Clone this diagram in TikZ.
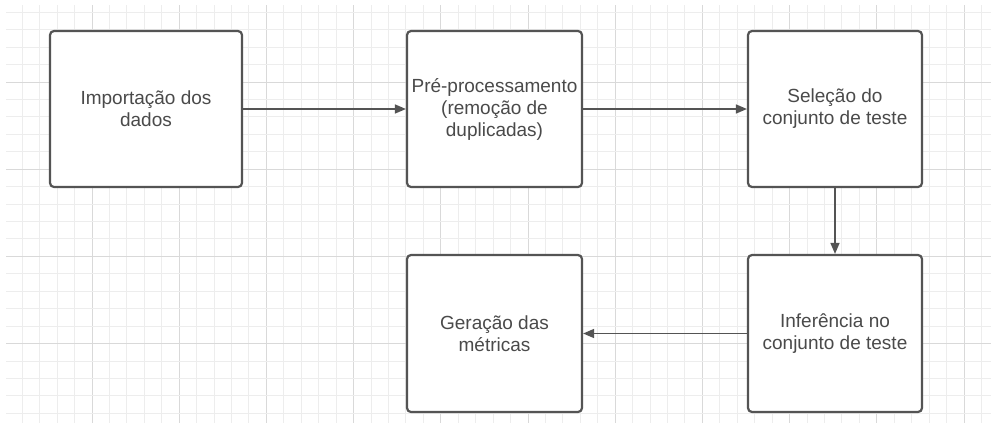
\documentclass[tikz,border=0pt]{standalone}
\usepackage{fontspec}
\setmainfont{Liberation Sans}
\usetikzlibrary{arrows.meta}
\definecolor{minorgrid}{HTML}{EDEDED}
\definecolor{majorgrid}{HTML}{D9D9D9}
\definecolor{boxline}{HTML}{545454}
\definecolor{txt}{HTML}{4A4A4A}
\tikzset{
  stepbox/.style={draw=boxline, line width=2.2pt, rounded corners=4pt, fill=white,
    inner sep=0pt, text=txt, align=center,
    font=\fontsize{19}{22}\selectfont},
  flow/.style={draw=boxline, line width=1.4pt, -{Triangle[length=11pt,width=9pt]}}
}
\begin{document}
\begin{tikzpicture}[x=1pt,y=-1pt]
\useasboundingbox (0,0) rectangle (991,423);
\fill[white] (0,0) rectangle (991,423);
% grid
\foreach \k in {1,...,56}{
  \pgfmathtruncatemacro{\m}{mod(\k,5)}
  \ifnum\m=0
    \draw[majorgrid, line width=1pt] ({4.8+17.44*\k},5) -- ({4.8+17.44*\k},423);
  \else
    \draw[minorgrid, line width=1pt] ({4.8+17.44*\k},5) -- ({4.8+17.44*\k},423);
  \fi
}
\foreach \k in {1,...,24}{
  \pgfmathtruncatemacro{\m}{mod(\k,5)}
  \ifnum\m=0
    \draw[majorgrid, line width=1pt] (6,{-5.2+17.44*\k}) -- (991,{-5.2+17.44*\k});
  \else
    \draw[minorgrid, line width=1pt] (6,{-5.2+17.44*\k}) -- (991,{-5.2+17.44*\k});
  \fi
}
% boxes
\node[stepbox, minimum width=192pt, minimum height=156pt] (imp) at (146,109) {Importação dos\\dados};
\node[stepbox, minimum width=175pt, minimum height=156pt] (pre) at (494.5,109) {Pré-processamento\\(remoção de\\duplicadas)};
\node[stepbox, minimum width=174pt, minimum height=156pt] (sel) at (835,109) {Seleção do\\conjunto de teste};
\node[stepbox, minimum width=174pt, minimum height=157pt] (inf) at (835,333.5) {Inferência no\\conjunto de teste};
\node[stepbox, minimum width=175pt, minimum height=157pt] (ger) at (494.5,333.5) {Geração das\\métricas};
% connectors
\draw[flow] (imp.east) -- (pre.west);
\draw[flow] (pre.east) -- (sel.west);
\draw[flow] (sel.south) -- (inf.north);
\draw[flow] (inf.west) -- (ger.east);
\end{tikzpicture}
\end{document}
